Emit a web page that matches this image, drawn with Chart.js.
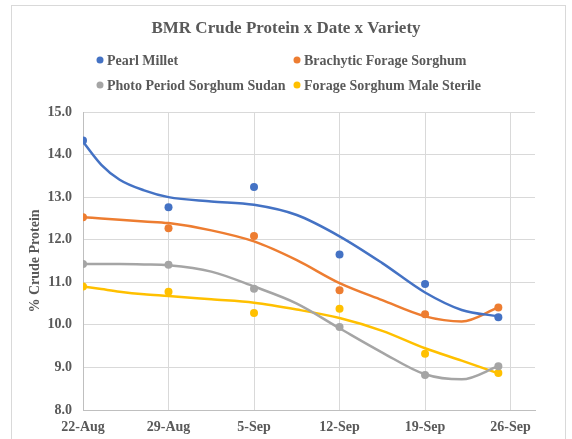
<!DOCTYPE html>
<html>
<head>
<meta charset="utf-8">
<script src="https://cdn.jsdelivr.net/npm/chart.js@4.4.1/dist/chart.umd.min.js"></script>
<style>
  body { margin: 0; background: #fff; }
  #wrap { position: relative; width: 572px; height: 439px; }
  #frame { position: absolute; left: 11px; top: 5px; width: 553px; height: 450px; border: 1px solid #d9d9d9; }
  #chart { position: absolute; left: 0; top: 0; }
</style>
</head>
<body>
<div id="wrap">
  <div id="frame"></div>
  <canvas id="chart" width="572" height="439"></canvas>
</div>
<script>
// days after 22-Aug
const dayNums = [0, 7, 14, 21, 28, 34];
const tickLabels = ['22-Aug', '29-Aug', '5-Sep', '12-Sep', '19-Sep', '26-Sep'];

const seriesNames = ['Pearl Millet', 'Brachytic Forage Sorghum', 'Photo Period Sorghum Sudan', 'Forage Sorghum Male Sterile'];
const pearlMillet = [14.33, 12.76, 13.24, 11.65, 10.96, 10.18];
const brachytic = [12.53, 12.27, 12.09, 10.81, 10.25, 10.41];
const photoPeriod = [11.43, 11.41, 10.85, 9.95, 8.82, 9.03];
const maleSterile = [10.90, 10.78, 10.28, 10.38, 9.32, 8.87];

// trendline values
const trendDays = [0, 1.5, 3, 5, 7, 10.5, 14, 17.5, 21, 24.5, 28, 31, 34];
const pearlTrend = [14.30, 13.76, 13.41, 13.16, 13.00, 12.90, 12.82, 12.58, 12.08, 11.45, 10.76, 10.35, 10.20];
const brachyticTrend = [12.53, 12.50, 12.47, 12.43, 12.39, 12.22, 11.96, 11.52, 10.98, 10.58, 10.20, 10.08, 10.41];
const photoTrend = [11.43, 11.43, 11.43, 11.42, 11.40, 11.25, 10.90, 10.50, 9.92, 9.35, 8.84, 8.72, 9.03];
const sterileTrend = [10.90, 10.84, 10.78, 10.72, 10.68, 10.60, 10.52, 10.36, 10.16, 9.86, 9.45, 9.16, 8.86];

const colors = ['#4472C4', '#ED7D31', '#A5A5A5', '#FFC000'];
const serif = '"Liberation Serif", "Times New Roman", serif';
const textColor = '#595959';

const toXY = (xs, ys) => xs.map((x, i) => ({ x: x, y: ys[i] }));

const pointSets = [pearlMillet, brachytic, photoPeriod, maleSterile];
const trendSets = [pearlTrend, brachyticTrend, photoTrend, sterileTrend];

const datasets = [];
trendSets.forEach((t, i) => {
  datasets.push({
    type: 'line',
    label: seriesNames[i] + ' trend',
    data: toXY(trendDays, t),
    borderColor: colors[i],
    borderWidth: 2.5,
    pointRadius: 0,
    cubicInterpolationMode: 'monotone',
    fill: false,
    order: 2
  });
});
pointSets.forEach((p, i) => {
  datasets.push({
    type: 'scatter',
    label: seriesNames[i],
    data: toXY(dayNums, p),
    backgroundColor: colors[i],
    borderColor: colors[i],
    pointRadius: 4,
    pointBorderWidth: 0,
    order: 1
  });
});

// Excel style legend: two fixed columns
const twoColLegend = {
  id: 'twoColLegend',
  afterDraw(chart) {
    const ctx = chart.ctx;
    const cols = [100, 297];
    const rows = [60, 85];
    ctx.save();
    ctx.font = 'bold 14px ' + serif;
    ctx.textBaseline = 'middle';
    ctx.textAlign = 'left';
    seriesNames.forEach((name, i) => {
      const x = cols[i % 2];
      const y = rows[Math.floor(i / 2)];
      ctx.fillStyle = colors[i];
      ctx.beginPath();
      ctx.arc(x, y, 3.5, 0, Math.PI * 2);
      ctx.fill();
      ctx.fillStyle = textColor;
      ctx.fillText(name, x + 7, y + 1);
    });
    ctx.restore();
  }
};

new Chart(document.getElementById('chart'), {
  type: 'scatter',
  data: { datasets: datasets },
  plugins: [twoColLegend],
  options: {
    responsive: false,
    animation: false,
    layout: { padding: 0 },
    plugins: {
      legend: { display: false },
      tooltip: { enabled: false },
      title: {
        display: true,
        text: 'BMR Crude Protein x Date x Variety',
        color: textColor,
        font: { family: serif, size: 17, weight: 'bold' },
        padding: { top: 18, bottom: 73.6 }
      }
    },
    scales: {
      x: {
        type: 'linear',
        min: 0,
        max: 37,
        afterFit: s => { s.height = 29; },
        ticks: {
          stepSize: 7,
          includeBounds: false,
          padding: 9,
          color: textColor,
          font: { family: serif, size: 14, weight: 'bold' },
          callback: v => tickLabels[dayNums.indexOf(v) >= 0 ? dayNums.indexOf(v) : v / 7] || ''
        },
        grid: { color: '#d9d9d9', drawTicks: false },
        border: { color: '#bfbfbf' }
      },
      y: {
        min: 8,
        max: 15,
        afterFit: s => { s.width = 83; },
        ticks: {
          stepSize: 1,
          padding: 11,
          color: textColor,
          font: { family: serif, size: 14, weight: 'bold' },
          callback: v => v.toFixed(1)
        },
        grid: { color: '#d9d9d9', drawTicks: false },
        border: { color: '#bfbfbf' },
        title: {
          display: true,
          text: '% Crude Protein',
          color: textColor,
          font: { family: serif, size: 14, weight: 'bold' },
          padding: { top: 26.6, bottom: 0 }
        }
      },
      // empty right-hand space, keeps the title centred on the full width
      yRight: {
        position: 'right',
        min: 8,
        max: 15,
        afterFit: s => { s.width = 37; },
        ticks: { display: false },
        grid: { display: false },
        border: { display: false }
      }
    }
  }
});
</script>
</body>
</html>
